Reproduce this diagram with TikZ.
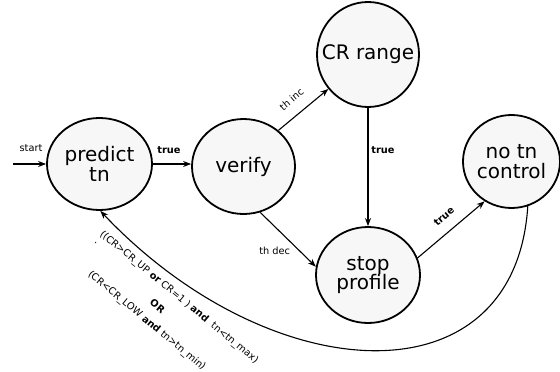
\documentclass[tikz,border=0pt]{standalone}
\usepackage{fontspec}
\setmainfont{DejaVu Sans}
\usetikzlibrary{shapes.geometric,arrows.meta}
\definecolor{nodefill}{HTML}{F7F7F7}
\begin{document}
\begin{tikzpicture}[x=1pt,y=-1pt,
  st/.style={ellipse, draw=black, line width=1.8pt, fill=nodefill, inner sep=-25pt,
    font=\fontsize{20}{19.5}\selectfont, align=center},
  edge/.style={line width=1.1pt, -{Stealth[length=8pt,width=6pt,inset=2.5pt]}},
  lbl/.style={font=\fontsize{9.8}{11}\selectfont, inner sep=0pt},
  blbl/.style={lbl, font=\fontsize{9.8}{11}\selectfont\bfseries}]
\useasboundingbox (0,0) rectangle (560,372);
% states
\node[st, minimum width=105pt, minimum height=92pt] (predict) at (99.5,164) {predict\\tn};
\node[st, minimum width=103pt, minimum height=95pt] (verify) at (243.5,166.5) {verify};
\node[st, minimum width=102pt, minimum height=105pt] (cr) at (368,54.5) {CR range};
\node[st, minimum width=104pt, minimum height=96pt] (stop) at (368,275) {stop\\profile};
\node[st, minimum width=97pt, minimum height=93pt] (notn) at (511.5,161.5) {no tn\\control};
% connectors
\coordinate (s0) at (13,164);
\draw[edge] (s0) -- (predict.west);
\draw[edge] (predict.east) -- (verify.west |- predict.east);
\draw[edge] (verify.46) -- (cr.221);
\draw[edge] (cr.south) -- (stop.north);
\draw[edge] (verify.-70) -- (stop.171);
\draw[edge] (stop.19) -- (notn.236);
\draw[edge] (notn.-70) .. controls (515,405) and (270,390) .. (predict.-89);
% labels
\node[lbl] (lstart) at (31,148) {start};
\node[blbl] (l1) at (169,150) {true};
\node[lbl, rotate=40] (l2) at (291.5,99.5) {th inc};
\node[blbl] (l3) at (383,150) {true};
\node[lbl] (l4) at (274.7,251) {th dec};
\node[blbl, rotate=40] (l5) at (444,216.5) {true};
\node[lbl, rotate=-39.5] (c1) at (179,297.5) {((CR>CR\_UP \textbf{or} CR=1 ) \textbf{and}\ \ tn<tn\_max)};
\node[lbl, rotate=-39.5] (c2) at (95.7,242.7) {.};
\node[blbl, rotate=-39.5] (c3) at (157.5,306) {OR};
\node[lbl, rotate=-39.5] (c4) at (146.7,321) {(CR<CR\_LOW \textbf{and} tn>tn\_min)};
\end{tikzpicture}
\end{document}
